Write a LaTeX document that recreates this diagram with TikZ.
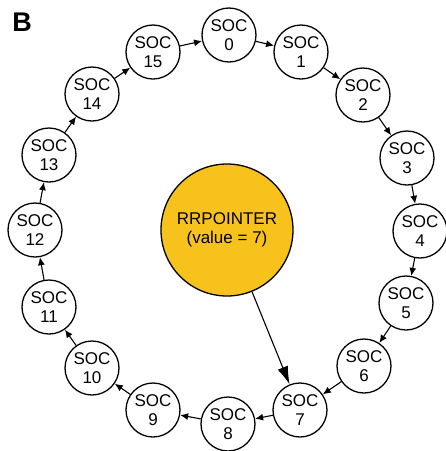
\documentclass[tikz,border=0pt]{standalone}
\usepackage{fontspec}
\setmainfont{Liberation Sans}
\usetikzlibrary{arrows.meta}
\definecolor{ptryellow}{RGB}{248,194,28}
\begin{document}
\begin{tikzpicture}[x=1pt,y=-1pt,
  soc/.style={circle,draw,line width=1.3pt,minimum size=54pt,inner sep=0pt,fill=white,
    align=center,font=\fontsize{17}{19}\selectfont},
  ptr/.style={circle,draw,line width=1.3pt,minimum size=132pt,inner sep=0pt,fill=ptryellow,
    align=center,font=\fontsize{17}{19}\selectfont},
  link/.style={line width=1.1pt,-{Latex[length=8pt,width=7pt]}},
  biglink/.style={line width=1.1pt,-{Latex[length=18pt,width=11pt]}}]
\useasboundingbox (0,0) rectangle (446,451);
\node[font=\fontsize{27}{30}\bfseries\selectfont] (lab) at (22,22) {B};
\node[soc] (s0) at (229,35) {SOC\\0};
\node[soc] (s1) at (301,52) {SOC\\1};
\node[soc] (s2) at (363,95) {SOC\\2};
\node[soc] (s3) at (407,158) {SOC\\3};
\node[soc] (s4) at (420,231) {SOC\\4};
\node[soc] (s5) at (406,303) {SOC\\5};
\node[soc] (s6) at (364,366) {SOC\\6};
\node[soc] (s7) at (300,410) {SOC\\7};
\node[soc] (s8) at (228,424) {SOC\\8};
\node[soc] (s9) at (153,410) {SOC\\9};
\node[soc] (s10) at (92,368) {SOC\\10};
\node[soc] (s11) at (49,307) {SOC\\11};
\node[soc] (s12) at (35,230) {SOC\\12};
\node[soc] (s13) at (49,155) {SOC\\13};
\node[soc] (s14) at (92,94) {SOC\\14};
\node[soc] (s15) at (153,52) {SOC\\15};
\node[ptr] (rr) at (227,230) {RRPOINTER\\(value = 7)};
\foreach \a/\b in {0/1,1/2,2/3,3/4,4/5,5/6,6/7,7/8,8/9,9/10,10/11,11/12,12/13,13/14,14/15,15/0}
  \draw[link] (s\a) -- (s\b);
\draw[biglink] (rr) -- (s7);
\end{tikzpicture}
\end{document}
